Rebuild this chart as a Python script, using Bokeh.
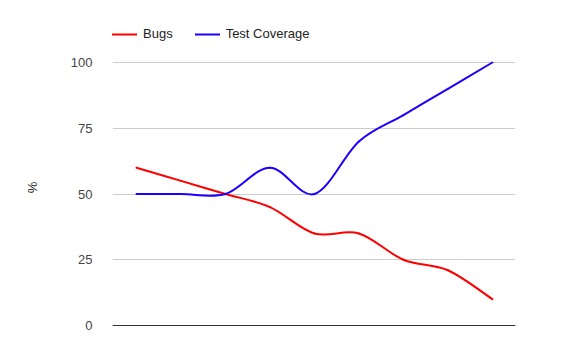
import numpy as np
from bokeh.plotting import figure
from bokeh.models import ColumnDataSource, Range1d, Span, Legend, LegendItem, FixedTicker
from bokeh.embed import file_html
from bokeh.resources import INLINE

# ---- data ----
steps = [0, 1, 2, 3, 4, 5, 6, 7, 8]
bugs = [60, 55, 50, 45, 35, 35, 25, 21, 10]
coverage = [50, 50, 50, 60, 50, 70, 80, 90, 100]
y_ticks = [0, 25, 50, 75, 100]
series_names = ["Bugs", "Test Coverage"]
series_colors = ["#ff0000", "#1c00ff"]

FONT = "Liberation Sans"


def bezier_source(xs, ys):
    """Smooth (Catmull-Rom style) curve through the data points as cubic Bezier segments."""
    x = np.asarray(xs, dtype=float)
    y = np.asarray(ys, dtype=float)
    n = len(x)
    xp = np.concatenate([[x[0]], x, [x[-1]]])
    yp = np.concatenate([[y[0]], y, [y[-1]]])
    d = dict(x0=[], y0=[], x1=[], y1=[], cx0=[], cy0=[], cx1=[], cy1=[])
    for i in range(n - 1):
        p0x, p0y = xp[i], yp[i]
        p1x, p1y = xp[i + 1], yp[i + 1]
        p2x, p2y = xp[i + 2], yp[i + 2]
        p3x, p3y = xp[i + 3], yp[i + 3]
        d["x0"].append(p1x); d["y0"].append(p1y)
        d["x1"].append(p2x); d["y1"].append(p2y)
        d["cx0"].append(p1x + (p2x - p0x) / 6.0)
        d["cy0"].append(p1y + (p2y - p0y) / 6.0)
        d["cx1"].append(p2x - (p3x - p1x) / 6.0)
        d["cy1"].append(p2y - (p3y - p1y) / 6.0)
    return ColumnDataSource(d)


# frame spans y = 26..348 px; 0 -> 325 px, 100 -> 62 px
p = figure(
    width=571, height=348,
    x_range=Range1d(-0.54, 8.52), y_range=Range1d(-8.745, 113.69),
    output_backend="svg", toolbar_location=None,
    min_border_left=112, min_border_right=56, min_border_top=26, min_border_bottom=0,
)
p.outline_line_color = None
p.background_fill_color = "white"
p.border_fill_color = "white"

p.xaxis.visible = False
p.xgrid.visible = False

p.ygrid.grid_line_color = "#cccccc"
p.ygrid.grid_line_width = 1

ax = p.yaxis[0]
ax.ticker = FixedTicker(ticks=y_ticks)
ax.axis_line_color = None
ax.major_tick_line_color = None
ax.minor_tick_line_color = None
ax.major_label_text_font = FONT
ax.major_label_text_font_size = "13px"
ax.major_label_text_color = "#444444"
ax.major_label_standoff = 14
ax.axis_label = "%"
ax.axis_label_text_font = FONT
ax.axis_label_text_font_size = "13px"
ax.axis_label_text_font_style = "normal"
ax.axis_label_text_color = "#222222"
ax.axis_label_standoff = 28

p.add_layout(Span(location=0, dimension="width", line_color="#333333", line_width=1))

renderers = []
for vals, color in zip([bugs, coverage], series_colors):
    src = bezier_source(steps, vals)
    r = p.bezier(x0="x0", y0="y0", x1="x1", y1="y1", cx0="cx0", cy0="cy0",
                 cx1="cx1", cy1="cy1", source=src, line_color=color, line_width=2,
                 line_cap="round")
    renderers.append(r)

legend = Legend(
    items=[LegendItem(label=n, renderers=[r]) for n, r in zip(series_names, renderers)],
    orientation="horizontal",
    location=(0, 307),
    padding=0, margin=0, spacing=22,
    glyph_width=25, glyph_height=14, label_height=14, label_standoff=6,
    label_text_font=FONT, label_text_font_size="13px", label_text_color="#222222",
    border_line_color=None, background_fill_alpha=0,
)
p.add_layout(legend, "center")

open("out.html", "w").write(file_html(p, INLINE))
